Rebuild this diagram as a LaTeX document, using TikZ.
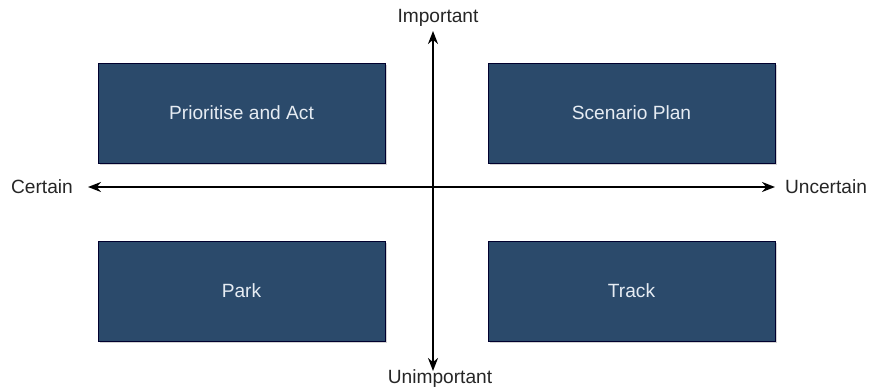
\documentclass[tikz,border=0pt]{standalone}
\usepackage{fontspec}
\setmainfont{Liberation Sans}
\usetikzlibrary{arrows.meta,shadows}
\tikzset{
	quadbox/.style={draw=black!55!blue!40!black, line width=0.3pt, fill=quadblue, text=quadtext, minimum width=5.74cm, minimum height=2cm, font=\fontsize{10.9}{13}\selectfont, drop shadow={shadow xshift=0.04cm, shadow yshift=-0.05cm, opacity=0.35}},
	axislabel/.style={text=black!85, font=\fontsize{10.9}{13}\selectfont, inner sep=1pt},
	axisline/.style={line width=0.04cm, {Stealth[length=0.26cm,width=0.2cm]}-{Stealth[length=0.26cm,width=0.2cm]}}
}
\definecolor{quadblue}{HTML}{2B4A6B}
\definecolor{quadtext}{HTML}{E6ECF3}
\begin{document}
\begin{tikzpicture}
			%%%%% START %%%%%
			\useasboundingbox (0, 0) rectangle (17.38, 7.74);
			
			\node[quadbox] (act) at (4.83, 5.48) {Prioritise and Act};
			\node[quadbox] (plan) at (12.63, 5.48) {Scenario Plan};
			\node[quadbox] (park) at (4.83, 1.92) {Park};
			\node[quadbox] (track) at (12.63, 1.92) {Track};
			
			\node[axislabel] (imp) at (8.76, 7.38) {Important};
			\node[axislabel] (unimp) at (8.8, 0.16) {Unimportant};
			\node[axislabel] (cert) at (0.84, 4.0) {Certain};
			\node[axislabel] (uncert) at (16.52, 4.0) {Uncertain};
			
			\coordinate (top) at (8.66, 7.12);
			\coordinate (bottom) at (8.66, 0.32);
			\coordinate (left) at (1.76, 4.0);
			\coordinate (right) at (15.5, 4.0);
			
			\draw[axisline] (bottom) -- (top);
			\draw[axisline] (left) -- (right);
			%%%%% END %%%%%
\end{tikzpicture}
\end{document}
